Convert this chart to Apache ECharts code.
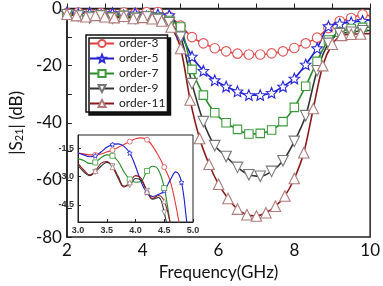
<!DOCTYPE html>
<html lang="en">
<head>
<meta charset="UTF-8">
<title>S21 vs frequency</title>
<style>
  html, body { margin: 0; padding: 0; background: #fff; }
  #chart { width: 383px; height: 286px; }
</style>
</head>
<body>
<div id="chart"></div>
<script src="https://cdn.jsdelivr.net/npm/echarts@6/dist/echarts.min.js"></script>
<script>
// main plot: sample points (GHz / dB)
var freq = [2.0, 2.3, 2.6, 2.9, 3.2, 3.5, 3.8, 4.1, 4.4, 4.7, 5.0, 5.3, 5.6, 5.9, 6.2, 6.5, 6.8, 7.1, 7.4, 7.7, 8.0, 8.3, 8.6, 8.9, 9.2, 9.5, 9.8, 10.0];
var freq11 = [2.0, 2.25, 2.5, 2.75, 3.0, 3.25, 3.5, 3.75, 4.0, 4.25, 4.5, 4.75, 5.0, 5.25, 5.5, 5.75, 6.0, 6.25, 6.5, 6.75, 7.0, 7.25, 7.5, 7.75, 8.0, 8.25, 8.5, 8.75, 9.0, 9.25, 9.5, 9.75, 10.0];

var order3 = [-1.5, -1.4, -1.8, -1.6, -1.9, -1.4, -1.7, -1.3, -1.2, -2.8, -6.0, -10.0, -12.2, -13.9, -15.0, -15.8, -16.1, -16.1, -15.7, -15.0, -13.8, -12.2, -10.2, -6.8, -4.4, -3.3, -2.1, -2.6];
var order5 = [-1.4, -1.8, -1.5, -2.2, -1.6, -2.4, -1.7, -2.8, -2.0, -2.3, -8.8, -16.8, -21.8, -25.1, -27.3, -29.0, -30.3, -30.3, -29.5, -27.3, -24.5, -19.6, -13.9, -6.2, -5.3, -4.8, -4.3, -4.0];
var order7 = [-2.0, -2.3, -2.7, -2.2, -2.9, -2.4, -3.1, -2.6, -3.2, -4.2, -6.5, -21.3, -30.3, -36.5, -40.0, -42.3, -43.9, -43.7, -42.5, -39.6, -34.6, -27.2, -18.5, -11.0, -8.3, -7.0, -6.6, -6.5];
var order9 = [-2.2, -2.6, -3.3, -2.6, -3.4, -2.8, -3.5, -3.0, -3.8, -5.0, -10.0, -26.3, -39.6, -48.0, -51.8, -55.6, -58.2, -58.7, -57.0, -53.3, -46.5, -37.5, -21.8, -12.2, -8.8, -8.3, -7.8, -7.7];
var order11 = [-2.0, -2.5, -2.9, -2.4, -2.9, -3.2, -2.7, -3.5, -3.1, -3.6, -4.4, -6.5, -14.0, -32.0, -45.5, -54.5, -61.5, -66.5, -70.2, -72.2, -72.6, -71.5, -69.2, -65.6, -59.5, -50.5, -35.0, -20.0, -12.5, -9.4, -9.0, -8.9, -8.8];

// inset: passband 3-5 GHz
var insetFreq = [3.0, 3.1, 3.2, 3.3, 3.4, 3.5, 3.6, 3.7, 3.8, 3.9, 4.0, 4.1, 4.2, 4.3, 4.4, 4.5, 4.6, 4.7, 4.8, 4.9, 5.0];
var inset3 = [-1.75, -1.8, -1.85, -1.85, -1.8, -1.7, -1.6, -1.45, -1.3, -1.15, -1.0, -0.95, -1.05, -1.4, -1.9, -2.5, -3.2, -4.5, -6.2, -8.0, -9.5];
var inset5 = [-1.75, -1.85, -1.95, -1.9, -1.7, -1.45, -1.3, -1.27, -1.4, -1.75, -2.45, -3.3, -3.85, -4.05, -3.95, -3.75, -3.2, -2.75, -3.3, -5.6, -7.5];
var inset7 = [-2.05, -2.15, -2.3, -2.25, -2.0, -1.85, -1.9, -2.2, -2.75, -3.15, -3.3, -3.25, -2.7, -2.45, -2.65, -3.6, -5.4, -7.2, -8.5, -9.5, -10.0];
var inset9 = [-2.4, -2.75, -2.95, -2.75, -2.45, -2.25, -2.45, -3.0, -3.5, -3.45, -3.1, -3.2, -3.75, -4.2, -4.1, -4.9, -6.5, -8.0, -9.0, -9.5, -10.0];
var inset11 = [-2.3, -2.65, -2.9, -2.7, -2.3, -2.2, -2.5, -3.1, -3.55, -3.3, -2.95, -3.1, -3.8, -4.15, -4.0, -4.3, -5.4, -7.0, -8.5, -9.5, -10.0];
var insetMarks = [3.3, 3.6, 3.9, 4.2, 4.5, 4.8];
var insetTicks = [-1.5, -3.0, -4.5];

var names = ['order-3', 'order-5', 'order-7', 'order-9', 'order-11'];

var star = 'path://M0 -10 L2.645 -3.64 L9.51 -3.09 L4.28 1.39 L5.88 8.09 L0 4.5 L-5.88 8.09 L-4.28 1.39 L-9.51 -3.09 L-2.645 -3.64 Z';
var font = "Lato, 'Open Sans', sans-serif";

function mainSeries(name, xs, ys, color, mark, markColor, size, rot) {
  return {
    name: name, type: 'line', xAxisIndex: 0, yAxisIndex: 0,
    smooth: 0.3, z: 2,
    data: xs.map(function (x, i) {
      var d = { value: [x, ys[i]] };
      if (x >= 10) d.symbol = 'none';
      return d;
    }),
    symbol: mark, symbolSize: size, symbolRotate: rot || 0, showAllSymbol: true,
    lineStyle: { color: color, width: 1.6 },
    itemStyle: { color: '#fff', borderColor: markColor, borderWidth: 1.1 }
  };
}

function insetSeries(name, ys, color, mark, markColor, rot) {
  return {
    name: name, type: 'line', xAxisIndex: 1, yAxisIndex: 1,
    smooth: 0.4, z: 7,
    data: insetFreq.map(function (x, i) {
      var d = { value: [x, ys[i]] };
      if (insetMarks.indexOf(x) < 0) d.symbol = 'none';
      return d;
    }),
    symbol: mark, symbolSize: 5, symbolRotate: rot || 0, showAllSymbol: true,
    lineStyle: { color: color, width: 1.1 },
    itemStyle: { color: '#fff', borderColor: markColor, borderWidth: 0.8 }
  };
}

var myChart = echarts.init(document.getElementById('chart'));

var option = {
  backgroundColor: '#fff',
  animation: false,
  grid: [
    { left: 57, right: 6, top: 7, bottom: 41, show: true, borderColor: '#222', borderWidth: 1.5 },
    { left: 78, top: 135, width: 115, height: 87, show: true, backgroundColor: '#fff', borderColor: '#222', borderWidth: 1, z: 5 }
  ],
  xAxis: [
    {
      type: 'value', gridIndex: 0, min: 2, max: 10, interval: 2,
      axisLine: { lineStyle: { color: '#222', width: 1.5 } },
      axisTick: { inside: true, length: 5, lineStyle: { color: '#222' } },
      minorTick: { show: true, splitNumber: 2, length: 5, lineStyle: { color: '#222' } },
      splitLine: { show: false },
      axisLabel: { fontSize: 17, color: '#111', margin: 5, fontFamily: font },
      name: 'Frequency(GHz)', nameLocation: 'middle', nameGap: 23,
      nameTextStyle: { fontSize: 17, color: '#111', fontFamily: font }
    },
    {
      type: 'value', gridIndex: 1, min: 3, max: 5, interval: 0.5, z: 6,
      axisLine: { lineStyle: { color: '#222', width: 1 } },
      axisTick: { inside: true, length: 3, lineStyle: { color: '#222' } },
      splitLine: { show: false },
      axisLabel: { fontSize: 9, fontWeight: 'bold', color: '#333', margin: 4,
        formatter: function (v) { return v.toFixed(1); } }
    }
  ],
  yAxis: [
    {
      type: 'value', gridIndex: 0, min: -80, max: 0, interval: 20,
      axisLine: { show: true, lineStyle: { color: '#222', width: 1.5 } },
      axisTick: { show: true, inside: true, length: 5, lineStyle: { color: '#222' } },
      minorTick: { show: true, splitNumber: 2, length: 5, lineStyle: { color: '#222' } },
      splitLine: { show: false },
      axisLabel: { fontSize: 17, color: '#111', margin: 5, fontFamily: font },
      name: '|S{s|21}| (dB)', nameLocation: 'middle', nameRotate: 90, nameGap: 38,
      nameTextStyle: { fontSize: 17, color: '#111', fontFamily: font,
        rich: { s: { fontSize: 11, fontFamily: font, color: '#111', padding: [6, 0, 0, 0] } } }
    },
    {
      type: 'value', gridIndex: 1, min: -5.4, max: -0.8, z: 6,
      axisLine: { show: true, lineStyle: { color: '#222', width: 1 } },
      axisTick: { show: true, inside: true, length: 3, customValues: insetTicks, lineStyle: { color: '#222' } },
      splitLine: { show: false },
      axisLabel: { fontSize: 9, fontWeight: 'bold', color: '#333', margin: 4, customValues: insetTicks,
        formatter: function (v) { return v.toFixed(1); } }
    }
  ],
  legend: {
    data: names, orient: 'vertical', left: 86, top: 35,
    itemWidth: 24, itemHeight: 9, itemGap: 2,
    padding: [2, 2, 2, 3],
    backgroundColor: '#fff', borderColor: '#111', borderWidth: 1.5,
    shadowColor: '#111', shadowOffsetX: 3, shadowOffsetY: 3, shadowBlur: 0,
    textStyle: { fontSize: 12, lineHeight: 13, color: '#222', fontFamily: font },
    selectedMode: false, z: 8
  },
  series: [
    mainSeries('order-3', freq, order3, '#e23b3b', 'circle', '#e05555', 9.5),
    mainSeries('order-5', freq, order5, '#1c1cd0', star, '#2a2ad8', 10.5),
    mainSeries('order-7', freq, order7, '#2b8a2b', 'rect', '#3c9c3c', 8.5),
    mainSeries('order-9', freq, order9, '#333333', 'triangle', '#777777', 10.5, 180),
    mainSeries('order-11', freq11, order11, '#8b1a1a', 'triangle', '#b07a7a', 10.5),
    insetSeries('in-3', inset3, '#e23b3b', 'circle', '#e05555'),
    insetSeries('in-5', inset5, '#1c1cd0', star, '#2a2ad8'),
    insetSeries('in-7', inset7, '#2b8a2b', 'rect', '#3c9c3c'),
    insetSeries('in-9', inset9, '#333333', 'triangle', '#777777', 180),
    insetSeries('in-11', inset11, '#8b1a1a', 'triangle', '#b07a7a')
  ]
};

myChart.setOption(option);
</script>
</body>
</html>
